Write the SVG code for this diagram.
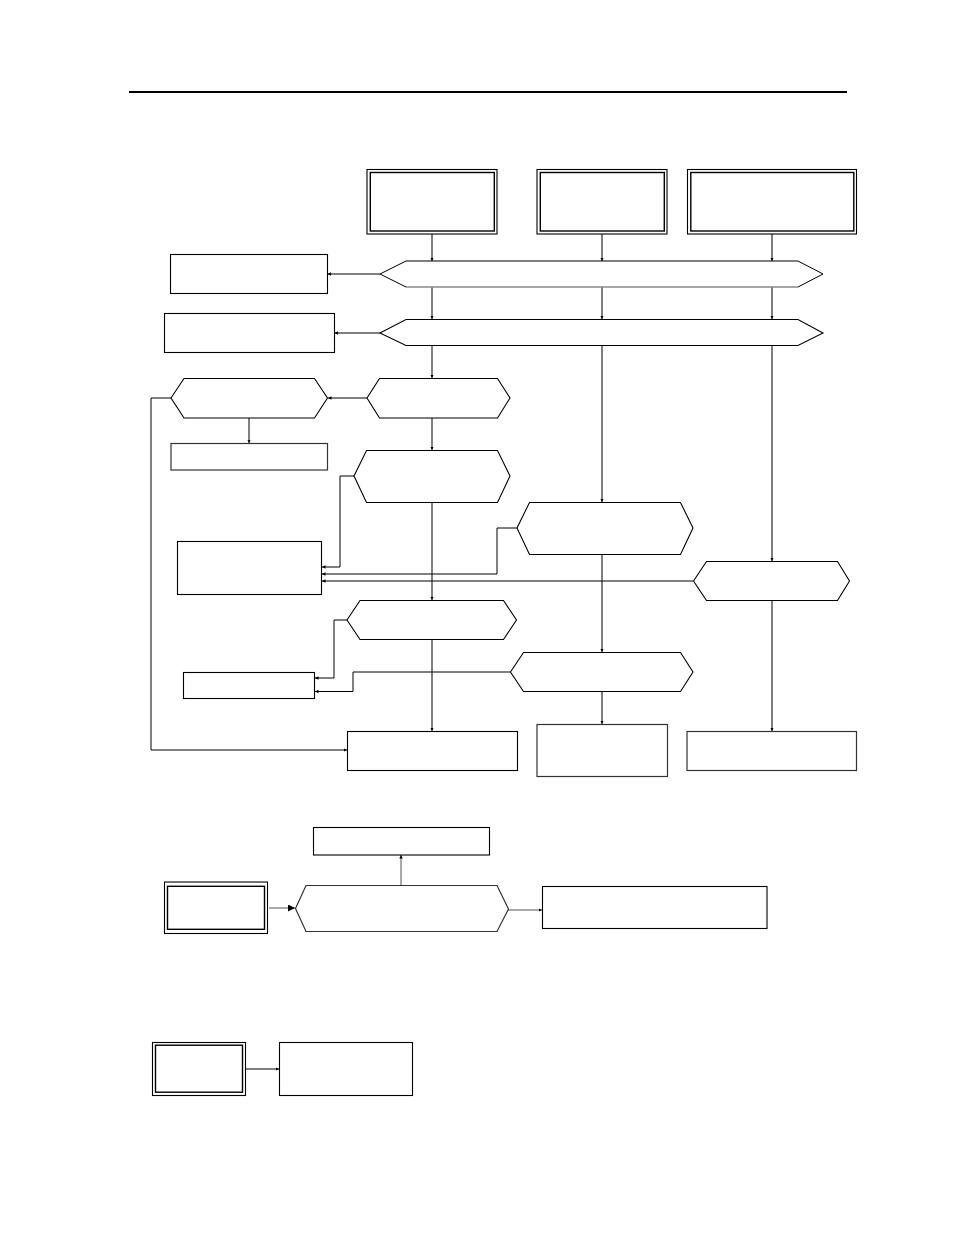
<svg xmlns="http://www.w3.org/2000/svg" width="954" height="1235" viewBox="0 0 954 1235">
<style>
.n{fill:#fff;stroke:#000;stroke-width:1.1}
.g{fill:#fff;stroke:#333;stroke-width:1.2}
.in{fill:none;stroke:#000;stroke-width:1.4}
.c{fill:none;stroke:#000;stroke-width:1}
.cg{fill:none;stroke:#555;stroke-width:1}
</style>
<defs>
<marker id="a" viewBox="0 0 6 6" refX="6" refY="3" markerWidth="3.5" markerHeight="3.5" orient="auto" markerUnits="userSpaceOnUse">
<path d="M0,0L6,3L0,6z" fill="#000"/>
</marker>
<marker id="b" viewBox="0 0 10 10" refX="10" refY="5" markerWidth="7" markerHeight="7" orient="auto" markerUnits="userSpaceOnUse">
<path d="M0,0L10,5L0,10z" fill="#000"/>
</marker>
</defs>
<rect x="129" y="91" width="718" height="2" fill="#000"/>
<g id="connectors">
<path class="c" d="M432,234V261" marker-end="url(#a)"/>
<path class="c" d="M602,234V261" marker-end="url(#a)"/>
<path class="c" d="M772,234V261" marker-end="url(#a)"/>
<path class="c" d="M380,274H327.5" marker-end="url(#a)"/>
<path class="c" d="M432,287V319" marker-end="url(#a)"/>
<path class="c" d="M602,287V319" marker-end="url(#a)"/>
<path class="c" d="M772,287V319" marker-end="url(#a)"/>
<path class="c" d="M380,333H334.5" marker-end="url(#a)"/>
<path class="c" d="M432,345V378" marker-end="url(#a)"/>
<path class="c" d="M367,398H328" marker-end="url(#a)"/>
<path class="c" d="M249,418V443" marker-end="url(#a)"/>
<path class="c" d="M171,398H151V750H347" marker-end="url(#a)"/>
<path class="c" d="M432,418V450" marker-end="url(#a)"/>
<path class="c" d="M354,476H340V567H322" marker-end="url(#a)"/>
<path class="c" d="M602,345V502" marker-end="url(#a)"/>
<path class="c" d="M517,528H497V574H322" marker-end="url(#a)"/>
<path class="c" d="M772,345V561" marker-end="url(#a)"/>
<path class="c" d="M693,581H322" marker-end="url(#a)"/>
<path class="c" d="M432,502V600" marker-end="url(#a)"/>
<path class="c" d="M347,620H334V678H315" marker-end="url(#a)"/>
<path class="c" d="M602,554V652" marker-end="url(#a)"/>
<path class="c" d="M510,672H353V691.5H315" marker-end="url(#a)"/>
<path class="c" d="M432,639V731" marker-end="url(#a)"/>
<path class="c" d="M602,691V724" marker-end="url(#a)"/>
<path class="c" d="M772,600V731" marker-end="url(#a)"/>
<path class="cg" d="M269,908H295" marker-end="url(#b)"/>
<path class="cg" d="M401,885V855" marker-end="url(#a)"/>
<path class="cg" d="M508,910H542" marker-end="url(#a)"/>
<path class="c" d="M245,1069H279" marker-end="url(#a)"/>
</g>
<g id="srcA"><rect class="n" x="367" y="169.5" width="130" height="64.5"/><rect class="in" x="370.3" y="172.5" width="124" height="58.5"/></g>
<g id="srcB"><rect class="n" x="537" y="169.5" width="130" height="64.5"/><rect class="in" x="540.3" y="172.5" width="124" height="58.5"/></g>
<g id="srcC"><rect class="n" x="687.5" y="169.5" width="169" height="64.5"/><rect class="in" x="690.8" y="172.5" width="163" height="58.5"/></g>
<g id="band1"><path fill="#fff" stroke="none" d="M380,274L406,261H798L823,274L798,287H406Z"/><path class="c" d="M406,287L380,274L406,261H798L823,274L798,287"/><path stroke="#888" stroke-width="1.3" fill="none" d="M406,287H798"/></g>
<g id="band2"><path class="n" d="M380,333L406,319.5H798L823,333L798,345.5H406Z"/></g>
<g id="boxL1"><rect class="n" x="170.5" y="254.5" width="157" height="39"/></g>
<g id="boxL2"><rect class="n" x="164.5" y="313.5" width="170" height="39"/></g>
<g id="hexH1"><path class="n" d="M367,398L379.5,378.5H497.5L510,398L497.5,418H379.5Z"/></g>
<g id="hexH2"><path class="n" d="M171,398L184,378.5H314.5L327.5,398L314.5,418H184Z"/></g>
<g id="boxL3"><rect class="g" x="171" y="443.5" width="156.5" height="26.5"/></g>
<g id="hexH3"><path class="n" d="M354,476L366.5,450.5H497.5L510,476L497.5,502.5H366.5Z"/></g>
<g id="boxL4"><rect class="n" x="177.5" y="541.5" width="144" height="53"/></g>
<g id="hexH4"><path class="n" d="M517,528L529.5,502.5H680.5L693,528L680.5,554.5H529.5Z"/></g>
<g id="hexH5"><path class="n" d="M693.5,581L706.5,561.5H837.5L849.5,581L837.5,600.5H706.5Z"/></g>
<g id="hexH6"><path class="n" d="M347,620L360,600.5H503.5L516.5,620L503.5,639.5H360Z"/></g>
<g id="hexH7"><path class="n" d="M510.5,672L523.5,652.5H680.5L693,672L680.5,691.5H523.5Z"/></g>
<g id="boxL5"><rect class="n" x="183.5" y="672.5" width="131" height="26"/></g>
<g id="boxCenterBottom"><rect class="n" x="347.5" y="731.5" width="170" height="39"/></g>
<g id="boxBBottom"><rect class="g" x="537" y="724.5" width="130.5" height="52"/></g>
<g id="boxCBottom"><rect class="g" x="687" y="731.5" width="169.5" height="39"/></g>
<g id="boxTop2"><rect class="n" x="313.5" y="827.5" width="176" height="27.5"/></g>
<g id="src2"><rect class="n" x="164.5" y="882" width="103" height="51.5"/><rect class="in" x="167.5" y="886.3" width="97" height="43"/></g>
<g id="hexH8"><path class="g" d="M295.5,908.5L306,885.5H497L508.5,909L497,931.5H306Z"/></g>
<g id="boxR2"><rect class="n" x="542.5" y="886.5" width="224.5" height="42"/></g>
<g id="src3"><rect class="n" x="152.5" y="1042.5" width="93" height="53"/><rect class="in" x="155.5" y="1045.2" width="87" height="47"/></g>
<g id="box3"><rect class="n" x="279.5" y="1042.5" width="133" height="53"/></g>
</svg>
